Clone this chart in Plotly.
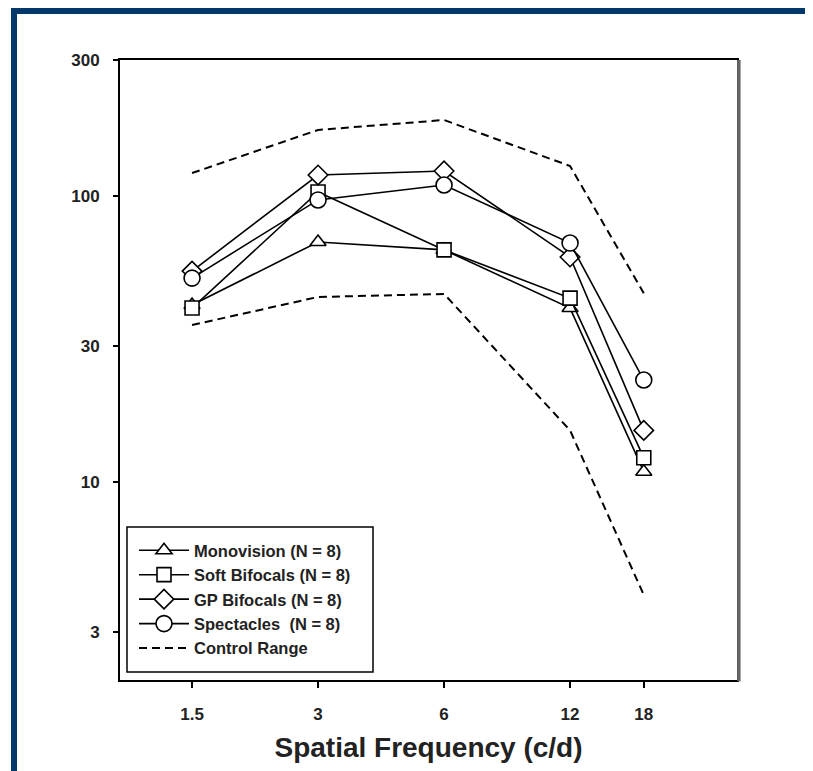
import plotly.graph_objects as go

freq = [1.5, 3, 6, 12, 18]
monovision = [41.7, 69.3, 65.0, 40.7, 10.9]
soft_bifocals = [40.7, 103.6, 65.0, 44.1, 12.2]
gp_bifocals = [54.8, 118.8, 122.7, 61.4, 15.2]
spectacles = [51.8, 97.2, 109.6, 68.7, 22.8]
control_upper = [120.7, 170.8, 185.0, 127.7, 45.9]
control_lower = [35.5, 44.5, 45.6, 15.2, 4.04]

x_ticks = [1.5, 3, 6, 12, 18]
x_ticktext = ["1.5", "3", "6", "12", "18"]
y_ticks = [3, 10, 30, 100, 300]
y_ticktext = ["3", "10", "30", "100", "300"]

FONT = "Liberation Sans, Arial, sans-serif"

fig = go.Figure()

# control range (dashed)
fig.add_trace(go.Scatter(x=freq, y=control_upper, mode="lines", name="Control Range",
                         line=dict(color="black", width=2, dash="8px,5px"), legendrank=5))
fig.add_trace(go.Scatter(x=freq, y=control_lower, mode="lines", name="Control Range",
                         showlegend=False, line=dict(color="black", width=2, dash="8px,5px")))

series = [
    ("Monovision (N = 8)", monovision, "triangle-up", 14),
    ("Soft Bifocals (N = 8)", soft_bifocals, "square", 14),
    ("GP Bifocals (N = 8)", gp_bifocals, "diamond", 15),
    ("Spectacles \u00a0(N = 8)", spectacles, "circle", 16),
]
for i, (name, vals, sym, sz) in enumerate(series):
    fig.add_trace(go.Scatter(
        x=freq, y=vals, mode="lines+markers", name=name, legendrank=i + 1,
        line=dict(color="black", width=1.6),
        marker=dict(symbol=sym, size=sz, color="white",
                    line=dict(color="black", width=1.6)),
    ))

# page has an 8px body margin: work in screen coordinates and shift
OFF = 8
W, H = 813 - OFF, 771 - OFF
PL, PR, PT, PB = 120, 737, 60, 680          # plot frame in screen px
L, T = PL - OFF, PT - OFF
pw, ph = PR - PL, PB - PT
R, B = W - L - pw, H - T - ph

def px(xs):
    return (xs - PL) / pw

def py(ys):
    return (PB - ys) / ph

shapes = [
    # navy page border (top and left)
    dict(type="rect", xref="paper", yref="paper", x0=px(11), x1=px(840), y0=py(14), y1=py(8),
         fillcolor="#03386b", line=dict(width=0), layer="above"),
    dict(type="rect", xref="paper", yref="paper", x0=px(11), x1=px(17), y0=py(800), y1=py(8),
         fillcolor="#03386b", line=dict(width=0), layer="above"),
    # grey right edge of frame
    dict(type="line", xref="paper", yref="paper", x0=1.003, x1=1.003, y0=-0.002, y1=1.0,
         line=dict(color="#666666", width=3.5), layer="above"),
    # legend frame
    dict(type="rect", xref="paper", yref="paper", x0=px(127), x1=px(373), y0=py(672), y1=py(527),
         line=dict(color="black", width=1.5), fillcolor="rgba(0,0,0,0)", layer="above"),
]

fig.update_layout(
    width=W, height=H,
    margin=dict(l=L, r=R, t=T, b=B, pad=0),
    paper_bgcolor="white", plot_bgcolor="white",
    font=dict(family=FONT, color="black"),
    showlegend=True,
    legend=dict(
        x=px(134), y=py(533), xanchor="left", yanchor="top",
        bgcolor="rgba(255,255,255,0)", borderwidth=0,
        font=dict(family=FONT, size=16.5, color="#222222", weight="bold"),
        itemwidth=50, traceorder="normal",
    ),
    shapes=shapes,
    xaxis=dict(
        type="log", range=[0.004, 1.478],
        tickvals=x_ticks, ticktext=x_ticktext,
        ticks="outside", ticklen=6, tickwidth=1.5, tickcolor="black",
        ticklabelstandoff=12,
        showgrid=False, zeroline=False,
        showline=True, linecolor="black", linewidth=2, mirror=True,
        tickfont=dict(family=FONT, size=17, color="#222222", weight="bold"),
        title=dict(text="Spatial Frequency (c/d)", standoff=14,
                   font=dict(family=FONT, size=28, color="#222222", weight="bold")),
    ),
    yaxis=dict(
        type="log", range=[0.309, 2.477],
        tickvals=y_ticks, ticktext=y_ticktext,
        ticks="outside", ticklen=5, tickwidth=1.5, tickcolor="black",
        ticklabelstandoff=10,
        showgrid=False, zeroline=False,
        showline=True, linecolor="black", linewidth=2, mirror=True,
        tickfont=dict(family=FONT, size=17, color="#222222", weight="bold"),
    ),
)

fig.write_html("out.html")
